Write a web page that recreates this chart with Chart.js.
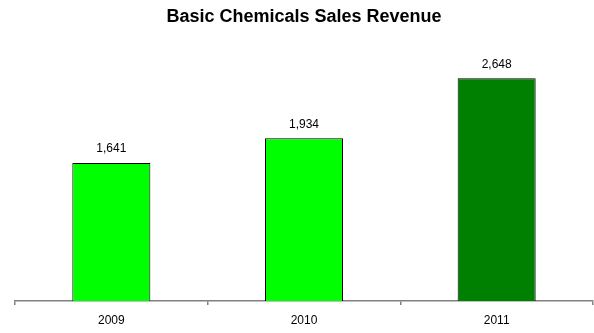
<!DOCTYPE html>
<html>
<head>
<meta charset="utf-8">
<title>Basic Chemicals Sales Revenue</title>
<script src="https://cdn.jsdelivr.net/npm/chart.js@4/dist/chart.umd.min.js"></script>
<style>
  html, body { margin: 0; padding: 0; background: #fff; }
  #wrap { width: 594px; height: 333px; position: relative; }
</style>
</head>
<body>
<div id="wrap"><canvas id="chart"></canvas></div>
<script>
// Sales revenue per year
const years = ['2009', '2010', '2011'];
const revenue = [1641, 1934, 2648];
const barColors = ['#00FF00', '#00FF00', '#008000'];
const yMax = 3000;

const FONT = "'Liberation Sans', Arial, sans-serif";

// value labels above each bar, e.g. "2,648"
const valueLabels = {
  id: 'valueLabels',
  afterDatasetsDraw(chart) {
    const { ctx } = chart;
    const meta = chart.getDatasetMeta(0);
    ctx.save();
    ctx.font = '12px ' + FONT;
    ctx.fillStyle = '#000';
    ctx.textAlign = 'center';
    ctx.textBaseline = 'middle';
    meta.data.forEach((bar, i) => {
      ctx.fillText(revenue[i].toLocaleString('en-US'), bar.x, bar.y - 14);
    });
    ctx.restore();
  }
};

new Chart(document.getElementById('chart'), {
  type: 'bar',
  data: {
    labels: years,
    datasets: [{
      data: revenue,
      backgroundColor: barColors,
      borderColor: '#000',
      borderWidth: 1,
      categoryPercentage: 1,
      barPercentage: 0.405
    }]
  },
  options: {
    responsive: true,
    maintainAspectRatio: false,
    animation: false,
    layout: {
      padding: { left: 15, right: 1, top: 0, bottom: 0 }
    },
    plugins: {
      legend: { display: false },
      tooltip: { enabled: false },
      title: {
        display: true,
        text: 'Basic Chemicals Sales Revenue',
        color: '#000',
        font: { family: FONT, size: 18, weight: 'bold' },
        padding: { top: 6, bottom: 21 }
      }
    },
    scales: {
      x: {
        offset: true,
        afterFit: (scale) => { scale.height = 32; },
        grid: {
          offset: true,
          drawOnChartArea: false,
          drawTicks: true,
          tickLength: 4,
          color: '#808080',
          lineWidth: 1.5
        },
        border: { display: true, color: '#808080', width: 1.5 },
        ticks: {
          color: '#000',
          padding: 8,
          font: { family: FONT, size: 12 }
        }
      },
      y: {
        display: false,
        min: 0,
        max: yMax
      }
    }
  },
  plugins: [valueLabels]
});
</script>
</body>
</html>
